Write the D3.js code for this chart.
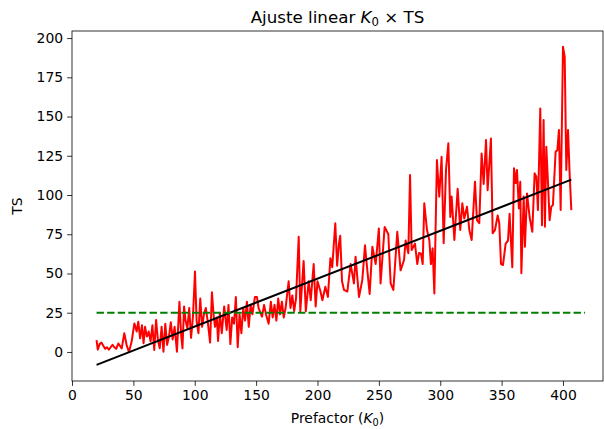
<!DOCTYPE html>
<html>
<head>
<meta charset="utf-8">
<script src="https://cdn.jsdelivr.net/npm/d3@7"></script>
<style>
  body { margin: 0; background: #fff; }
  svg { display: block; font-family: "DejaVu Sans", sans-serif; }
</style>
</head>
<body>
<div id="chart"></div>
<script>
// Prefactor values (x) and TS values (y)
const k0 = [20, 21, 22.5, 24, 25.5, 27, 28.5, 30, 31.5, 33, 34.5, 36, 37.8, 39, 40.5, 42.6, 44.5, 46.4, 48.6,
  50.8, 52.7, 54, 55.5, 57, 58.3, 59.5, 61, 62.5, 64, 65.5, 67, 68.5, 70, 71.5, 73, 74.5, 76, 77.5, 79, 80.5,
  82, 83.6, 85.5, 87.5, 89, 90, 91.3, 92.5, 94, 95.5, 97, 98.5, 100.2, 101.5, 103, 104.5, 106, 107.5, 109,
  110.5, 112.5, 114, 115.3, 116.5, 118, 119, 120.5, 122, 124, 126, 127.5, 129, 130.5, 132, 133.5, 135, 136.5,
  138, 139.5, 141, 142.5, 144, 145.5, 147, 149, 150.7, 152, 154.8, 156.5, 158, 160.2, 162, 163.5, 165, 166.5,
  168, 169.5, 171, 172.5, 174, 176.5, 178, 179.5, 181, 182.5, 184.7, 186, 188.7, 190.5, 192.8, 194.5, 196.9,
  198.5, 200, 202.3, 204, 206.4, 208.5, 210.5, 212, 214.5, 216, 217.5, 218.5, 220, 221.6, 224.3, 227, 229.7,
  231, 233.8, 236.5, 238.7, 240.6, 242.5, 244.7, 247.4, 250, 251.4, 254.7, 257.7, 259.6, 261.8, 265, 267.7,
  270.5, 271.8, 274, 275.4, 276.7, 279.4, 281.3, 282.7, 284.3, 285.7, 287, 289.2, 291.1, 292.4, 293.8, 295.2,
  297.3, 299.2, 301.1, 302.8, 304.7, 306.6, 308.2, 309.3, 311.5, 314.2, 316.3, 318, 319.6, 321.8, 323.7, 325.6,
  328.3, 329.9, 331.8, 333.7, 335.4, 337.3, 338.6, 341.3, 342.7, 344.6, 346.8, 348.1, 349.5, 351.1, 353.3,
  355.2, 356.5, 358.7, 360.1, 361.4, 362.5, 364.1, 365.2, 366.1, 368, 369, 370.7, 372.8, 375, 376.9, 378.3,
  379.6, 381.5, 382.9, 384.2, 385.3, 386.4, 387.8, 389.1, 390.5, 391.8, 394, 395.4, 396.7, 398.1, 400, 401.4,
  402.7, 404.1, 405.4, 406.8];
const ts = [7.6, 1.5, 5, 6, 4, 2, 3, 1.5, 3, 4.5, 3, 2, 5.4, 4, 2.3, 11.9, 4.4, 0, 6.6,
  18.2, 13, 19.3, 8.7, 17, 5.6, 16, 9.8, 13, 6.6, 17, 1.3, 20.4, 7.6, 2.4, 16, 0.2, 18, 4.5, 9.8, 19,
  8, 16, 0.2, 32, 10, 2.3, 29, 20, 15, 28, 9, 22, 51.2, 20, 12, 34, 16, 24, 28,
  20, 6, 38, 24, 16, 22, 7, 25, 12, 29, 14, 30, 5, 22, 18, 35, 3, 24,
  12, 28, 20, 32, 16, 30, 24, 35, 35, 28, 22.5, 30, 24, 18, 32, 22, 30, 20,
  34, 24, 32, 22, 28, 45, 28, 36, 26, 34, 73.4, 26, 58, 26, 45, 33, 56,
  29, 45, 39, 33, 41.6, 35, 59.7, 54, 82, 55, 69, 74, 45, 39.5, 38.5, 56, 43.7,
  60.7, 35, 45.8, 68, 52, 37, 67, 56, 78.7, 43.7, 79.6, 75, 43.7, 39.5, 76.6, 52,
  58.6, 71, 62.9, 112.7, 65, 69, 56, 63, 62.8, 56, 94.7, 77.7, 71.3, 56, 66, 37.3,
  122.3, 99, 124.4, 69.3, 116, 133, 86, 99, 71.3, 104, 77.7, 94.7, 85, 92.6, 77.7, 71.3,
  108.5, 84, 82, 126.5, 107, 135, 103, 136, 75.6, 77.7, 87, 82, 56, 55.4, 69,
  71, 88, 54, 117, 107.6, 116, 91.5, 108.5, 50.1, 99, 67, 101, 86, 76.6, 113.8, 111.7,
  90.4, 155.2, 80.8, 147.8, 79.8, 130.8, 107.6, 84, 92.6, 93.6, 127.6, 128.7, 141.4, 90.4, 194.5, 188,
  116, 141.4, 113.8, 90.4];

// linear fit (slope, intercept) and threshold line
const fitSlope = 0.305;
const fitIntercept = -14.3;
const thresholdTS = 25;
const thresholdRange = [20, 418];

const xTicks = [0, 50, 100, 150, 200, 250, 300, 350, 400];
const yTicks = [0, 25, 50, 75, 100, 125, 150, 175, 200];

const width = 604, height = 429;
const margin = { top: 31, right: 1, bottom: 48, left: 72 };

const svg = d3.select('#chart').append('svg')
    .attr('width', width)
    .attr('height', height);

const x = d3.scaleLinear().domain([0, 432.6]).range([margin.left, width - margin.right]);
const y = d3.scaleLinear().domain([-18.5, 204.5]).range([height - margin.bottom, margin.top]);

const g = svg.append('g');

// data line
const line = d3.line().x(d => x(d[0])).y(d => y(d[1]));
const points = k0.map((v, i) => [v, ts[i]]);

g.append('path')
    .datum(points)
    .attr('fill', 'none')
    .attr('stroke', '#ff0000')
    .attr('stroke-width', 2)
    .attr('stroke-linejoin', 'round')
    .attr('d', line);

// fit line
const xMin = d3.min(k0), xMax = d3.max(k0);
g.append('path')
    .datum([[xMin, fitSlope * xMin + fitIntercept], [xMax, fitSlope * xMax + fitIntercept]])
    .attr('fill', 'none')
    .attr('stroke', '#000')
    .attr('stroke-width', 2)
    .attr('d', line);

// threshold
g.append('path')
    .datum(thresholdRange.map(v => [v, thresholdTS]))
    .attr('fill', 'none')
    .attr('stroke', '#008000')
    .attr('stroke-width', 2)
    .attr('stroke-dasharray', '7.4,3.2')
    .attr('d', line);

// axes
const xAxis = svg.append('g')
    .attr('transform', `translate(0,${height - margin.bottom})`)
    .call(d3.axisBottom(x).tickValues(xTicks).tickSize(4.9).tickPadding(4));
const yAxis = svg.append('g')
    .attr('transform', `translate(${margin.left},0)`)
    .call(d3.axisLeft(y).tickValues(yTicks).tickSize(4.9).tickPadding(4));

[xAxis, yAxis].forEach(a => {
    a.select('.domain').remove();
    a.selectAll('line').attr('stroke', '#000').attr('stroke-width', 0.8);
    a.selectAll('text').attr('font-size', 13.9).attr('fill', '#000')
        .attr('font-family', '"DejaVu Sans", sans-serif');
});

// frame
svg.append('rect')
    .attr('x', margin.left)
    .attr('y', margin.top)
    .attr('width', width - margin.left - margin.right)
    .attr('height', height - margin.top - margin.bottom)
    .attr('fill', 'none')
    .attr('stroke', '#000')
    .attr('stroke-width', 0.8);

// title
const cx = (margin.left + width - margin.right) / 2;
const title = svg.append('text')
    .attr('x', cx)
    .attr('y', 23)
    .attr('text-anchor', 'middle')
    .attr('font-size', 16.7);
title.append('tspan').text('Ajuste linear ');
title.append('tspan').attr('font-style', 'italic').text('K');
title.append('tspan').attr('font-size', 11.7).attr('dy', 3).text('0');
title.append('tspan').attr('dy', -3).text(' × TS');

// x label
const xl = svg.append('text')
    .attr('x', cx)
    .attr('y', 423)
    .attr('text-anchor', 'middle')
    .attr('font-size', 13.9);
xl.append('tspan').text('Prefactor (');
xl.append('tspan').attr('font-style', 'italic').text('K');
xl.append('tspan').attr('font-size', 9.7).attr('dy', 2.5).text('0');
xl.append('tspan').attr('dy', -2.5).text(')');

// y label
svg.append('text')
    .attr('transform', `translate(22,${(margin.top + height - margin.bottom) / 2}) rotate(-90)`)
    .attr('text-anchor', 'middle')
    .attr('font-size', 13.9)
    .text('TS');
</script>
</body>
</html>
